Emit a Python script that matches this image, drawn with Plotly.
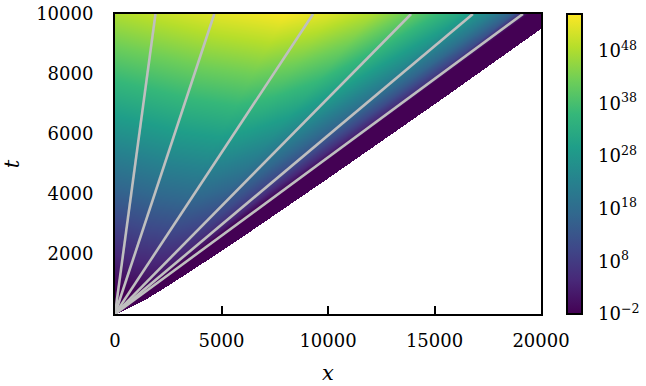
import numpy as np
import plotly.graph_objects as go

# Space-time extent
x_max, t_max = 20000, 10000

# Edge of the non-zero region (front position vs time)
front_t = [0, 500, 1000, 2000, 2800, 4540, 7130, 9530, 10000]
front_x = [0, 1430, 2570, 4730, 6410, 9990, 15230, 20000, 20930]

# log10 of the field inside the cone, sampled at fractional position s = x / x_front
cone_s = [0.0, 0.1, 0.24, 0.38, 0.48, 0.575, 0.67, 0.77, 0.84, 0.89, 0.925, 0.96, 1.0]
log_at_t3000 = [10, 10.5, 11.5, 12, 11.5, 10.5, 8, 3, -4, -10, -20, -30, -40]
log_at_t10000 = [48, 50, 52.7, 54.5, 52, 48, 40.7, 32, 23.6, 15, -2, -20, -30]

# Rays x = v t overlaid on the field
ray_speeds = [0.19, 0.466, 0.93, 1.39, 1.68, 1.915]

# Axis ticks
x_ticks = [0, 5000, 10000, 15000, 20000]
t_ticks = [2000, 4000, 6000, 8000, 10000]

# Colour bar ticks (log10 of the field)
cbar_exponents = [-2, 8, 18, 28, 38, 48]
z_min, z_max = -2, 55

# Field on a fine space-time grid
x_grid = np.linspace(0, x_max, 427)
t_grid = np.linspace(0, t_max, 301)
X, T = np.meshgrid(x_grid, t_grid)
xf = np.interp(t_grid, front_t, front_x)
xf_safe = np.maximum(xf, 1e-9)[:, None]
S = X / xf_safe
L3 = np.interp(S, cone_s, log_at_t3000)
L10 = np.interp(S, cone_s, log_at_t10000)
Z = L3 + (T - 3000.0) / 7000.0 * (L10 - L3)
Z[X > xf[:, None]] = np.nan
Z = np.round(Z, 2)

font_family = "DejaVu Serif"
font_size = 18

fig = go.Figure()
fig.add_trace(go.Heatmap(
    x=x_grid, y=t_grid, z=Z,
    colorscale="Viridis", zmin=z_min, zmax=z_max,
    hoverongaps=False,
    colorbar=dict(
        x=1.061, xanchor="left", xpad=0, ypad=0,
        y=0.5, yanchor="middle", len=1, lenmode="fraction",
        thickness=15, outlinewidth=2, outlinecolor="black",
        tickmode="array", tickvals=cbar_exponents,
        ticktext=["10<sup>%s</sup>" % (str(e).replace("-", "\u2212")) for e in cbar_exponents],
        ticks="outside", ticklen=12, tickcolor="rgba(0,0,0,0)",
        tickfont=dict(family=font_family, size=font_size, color="black"),
    ),
))

for v in ray_speeds:
    fig.add_trace(go.Scatter(
        x=[0, v * t_max], y=[0, t_max], mode="lines",
        line=dict(color="#bfbfbf", width=2.6),
        showlegend=False, hoverinfo="skip",
    ))

fig.update_layout(
    template="none",
    width=646, height=386,
    margin=dict(l=115, r=105, t=14, b=72, autoexpand=False),
    paper_bgcolor="white", plot_bgcolor="white",
    font=dict(family=font_family, size=font_size, color="black"),
    showlegend=False,
    xaxis=dict(
        range=[0, x_max], tickmode="array", tickvals=x_ticks,
        ticktext=[str(v) for v in x_ticks], automargin=False,
        ticks="inside", ticklen=8, tickwidth=2, tickcolor="black",
        showline=True, linewidth=2, linecolor="black", mirror=True,
        showgrid=False, zeroline=False, ticklabelstandoff=9,
        title=dict(text="<i>x</i>", standoff=16, font=dict(size=21)),
    ),
    yaxis=dict(
        range=[0, t_max], tickmode="array", tickvals=t_ticks,
        ticktext=[str(v) for v in t_ticks], automargin=False,
        ticks="", showline=True, linewidth=2, linecolor="black", mirror=True,
        showgrid=False, zeroline=False, ticklabelstandoff=16,
        title=dict(text="<i>t</i>", standoff=19, font=dict(size=21)),
    ),
)

fig.write_html("out.html")
